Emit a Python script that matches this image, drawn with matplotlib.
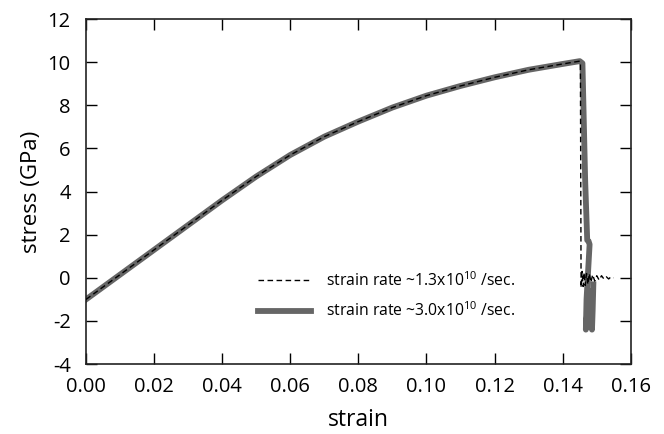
import numpy as np
import matplotlib
matplotlib.use('Agg')
import matplotlib.pyplot as plt

plt.rcParams['font.family'] = ['Open Sans', 'DejaVu Sans']
plt.rcParams['mathtext.default'] = 'regular'
plt.rcParams['axes.unicode_minus'] = False

# strain rate ~3.0x10^10 /sec (thick grey curve)
strain_fast = [0.000, 0.010, 0.020, 0.030, 0.040, 0.050, 0.060, 0.070, 0.080,
               0.090, 0.100, 0.110, 0.120, 0.130, 0.140, 0.1450, 0.1458,
               0.1466, 0.1472, 0.1476, 0.1479, 0.1470, 0.1468, 0.1474,
               0.1480, 0.1486, 0.1488, 0.1490]
stress_fast = [-1.00, 0.15, 1.30, 2.45, 3.60, 4.70, 5.70, 6.55, 7.25,
               7.90, 8.45, 8.90, 9.30, 9.65, 9.92, 10.05, 9.95,
               4.50, 1.75, 1.70, 1.55, -1.00, -2.40, -1.20,
               -0.60, -2.40, -1.50, -0.30]

# strain rate ~1.3x10^10 /sec (thin dashed curve)
strain_slow = [0.000, 0.010, 0.020, 0.030, 0.040, 0.050, 0.060, 0.070, 0.080,
               0.090, 0.100, 0.110, 0.120, 0.130, 0.140, 0.1450, 0.1452,
               0.1454, 0.1457, 0.1460, 0.1463, 0.1466, 0.1470, 0.1474,
               0.1478, 0.1483, 0.1488, 0.1494, 0.1500, 0.1507, 0.1514,
               0.1521, 0.1528, 0.1535, 0.1542, 0.1549]
stress_slow = [-1.00, 0.15, 1.30, 2.45, 3.60, 4.70, 5.70, 6.55, 7.25,
               7.90, 8.45, 8.90, 9.30, 9.65, 9.92, 10.05, 9.90,
               -0.45, 0.30, -0.40, 0.25, -0.35, 0.20, -0.30,
               0.20, -0.20, 0.15, -0.15, 0.10, -0.10, 0.10,
               -0.05, 0.05, -0.05, 0.05, 0.00]

xticks = [0.00, 0.02, 0.04, 0.06, 0.08, 0.10, 0.12, 0.14, 0.16]
yticks = [-4, -2, 0, 2, 4, 6, 8, 10, 12]

fig = plt.figure(figsize=(6.64, 4.34), dpi=100)
ax = fig.add_axes([0.1295, 0.161, 0.8205, 0.795])

ax.plot(strain_fast, stress_fast, color='#666666', lw=4.2,
        label=r'strain rate ~3.0x10$^{10}$ /sec.', zorder=2)
ax.plot(strain_slow, stress_slow, color='black', lw=1.0, ls=(0, (4, 2.5)),
        label=r'strain rate ~1.3x10$^{10}$ /sec.', zorder=3)

ax.set_xlim(0, 0.16)
ax.set_ylim(-4, 12)
ax.set_xticks(xticks)
ax.set_yticks(yticks)
ax.set_xticklabels(['%.2f' % t for t in xticks])
ax.tick_params(direction='in', length=8, width=1, top=True, right=True,
               labelsize=14.5)
ax.tick_params(axis='x', pad=9)
ax.tick_params(axis='y', pad=11)
for s in ax.spines.values():
    s.set_linewidth(1.2)
    s.set_color('#222222')

ax.set_xlabel('strain', fontsize=16.5, labelpad=8)
ax.set_ylabel('stress (GPa)', fontsize=16, labelpad=4)

h, l = ax.get_legend_handles_labels()
ax.legend(h[::-1], l[::-1], loc='upper left', bbox_to_anchor=(0.29, 0.31),
          frameon=False, fontsize=11.3, handlelength=3.4, handletextpad=0.9,
          labelspacing=0.75)

fig.savefig('out.png', dpi=100)
